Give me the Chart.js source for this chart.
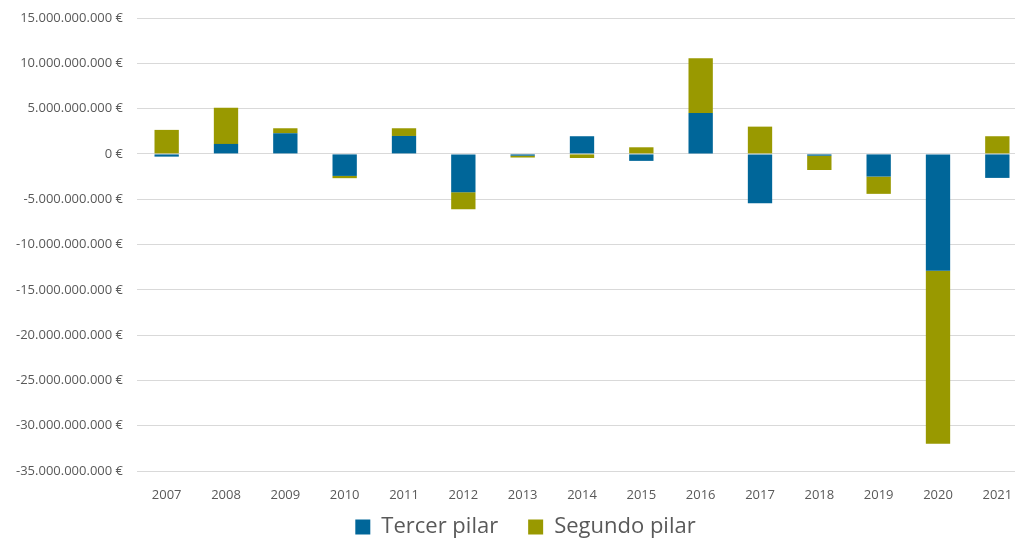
<!DOCTYPE html>
<html>
<head>
<meta charset="utf-8">
<script src="https://cdn.jsdelivr.net/npm/chart.js@4"></script>
<style>
  html, body { margin: 0; padding: 0; background: #fff; overflow: hidden; }
  #wrap { width: 1027px; height: 567px; }
</style>
</head>
<body>
<div id="wrap"><canvas id="c" width="1027" height="567"></canvas></div>
<script>
// Annual flows by pension pillar (EUR)
const years = ['2007','2008','2009','2010','2011','2012','2013','2014','2015','2016','2017','2018','2019','2020','2021'];
const tercerPilar = [-0.3e9, 1.1e9, 2.28e9, -2.43e9, 1.98e9, -4.23e9, -0.2e9, 1.95e9, -0.77e9, 4.52e9, -5.44e9, -0.2e9, -2.5e9, -12.9e9, -2.65e9];
const segundoPilar = [2.65e9, 4.0e9, 0.55e9, -0.25e9, 0.85e9, -1.88e9, -0.2e9, -0.45e9, 0.73e9, 6.03e9, 3.01e9, -1.58e9, -1.91e9, -19.1e9, 1.95e9];

const yMin = -35e9, yMax = 15e9, yStep = 5e9;

function euro(v) {
  const neg = v < 0;
  const s = Math.round(Math.abs(v)).toString().replace(/\B(?=(\d{3})+(?!\d))/g, '.');
  return (neg ? '-' : '') + s + ' €';
}

const txt = '#595959';

// place the legend a little right of centre and closer to the axis labels
const legendShift = {
  id: 'legendShift',
  afterLayout(chart) {
    const lg = chart.legend;
    if (lg) {
      lg.left += 12;
      lg.right += 12;
      lg.top -= 19;
      lg.bottom -= 19;
    }
  }
};

new Chart(document.getElementById('c'), {
  type: 'bar',
  data: {
    labels: years,
    datasets: [
      { label: 'Tercer pilar', data: tercerPilar, backgroundColor: '#006699', borderWidth: 0, categoryPercentage: 1, barPercentage: 0.41 },
      { label: 'Segundo pilar', data: segundoPilar, backgroundColor: '#999900', borderWidth: 0, categoryPercentage: 1, barPercentage: 0.41 }
    ]
  },
  plugins: [legendShift],
  options: {
    responsive: false,
    animation: false,
    layout: { padding: { top: 18, right: 0, left: 0, bottom: 0 } },
    plugins: {
      tooltip: { enabled: false },
      legend: {
        position: 'bottom',
        labels: {
          color: txt,
          font: { family: 'Open Sans', size: 22 },
          boxWidth: 15, boxHeight: 15, padding: 30
        }
      }
    },
    scales: {
      x: {
        stacked: true,
        afterFit(scale) { scale.height = 34; },
        grid: { display: false },
        border: { display: false },
        ticks: { color: txt, font: { family: 'Open Sans', size: 13 }, padding: 8 }
      },
      y: {
        stacked: true,
        min: yMin, max: yMax,
        afterFit(scale) { scale.width = 137; scale.paddingTop = 0; scale.paddingBottom = 0; },
        ticks: {
          stepSize: yStep,
          color: txt,
          font: { family: 'Open Sans', size: 13 },
          padding: 14,
          callback: v => euro(v)
        },
        grid: { color: '#d9d9d9', lineWidth: 1, drawTicks: false },
        border: { display: false }
      }
    }
  }
});
</script>
</body>
</html>
